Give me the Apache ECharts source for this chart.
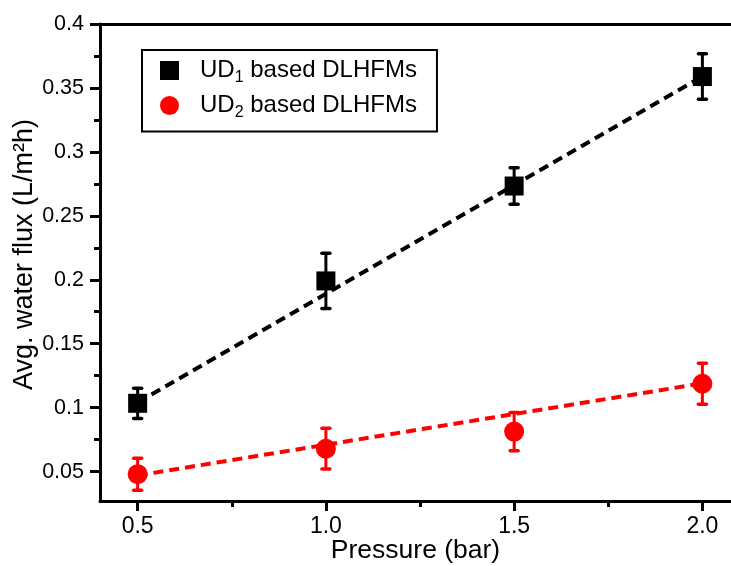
<!DOCTYPE html>
<html><head><meta charset="utf-8">
<script src="https://cdn.jsdelivr.net/npm/echarts@6/dist/echarts.min.js"></script>
<style>html,body{margin:0;padding:0;background:#fff}#c{width:731px;height:566px}</style>
</head><body><div id="c"></div>
<script>
// ---- data ----
const pressure = [0.5, 1.0, 1.5, 2.0];
const ud1Flux = [0.1034, 0.1991, 0.2733, 0.3589];
const ud1Err  = [0.0118, 0.0216, 0.0143, 0.0178];
const ud2Flux = [0.0480, 0.0679, 0.0813, 0.1187];
const ud2Err  = [0.0125, 0.0159, 0.0150, 0.0160];
const fitX = [0.5, 2.0];
const fit1Y = [0.104, 0.359];
const fit2Y = [0.047, 0.119];
const xMajorTicks = [0.5, 1.0, 1.5, 2.0];
const xMinorTicks = [0.75, 1.25, 1.75];
const yMajorTicks = [0.05, 0.1, 0.15, 0.2, 0.25, 0.3, 0.35, 0.4];
const yMinorTicks = [0.075, 0.125, 0.175, 0.225, 0.275, 0.325, 0.375];
const seriesNames = ['UD1 based DLHFMs', 'UD2 based DLHFMs'];
const legendSub = {'UD1 based DLHFMs': '1', 'UD2 based DLHFMs': '2'};

const FONT = '"Liberation Sans", Arial, sans-serif';
const X_MIN = 0.4, X_MAX = 2.076, Y_MIN = 0.027, Y_MAX = 0.4;

function errRender(color) {
  return function (params, api) {
    const x = api.value(0), lo = api.value(1), hi = api.value(2);
    const pHi = api.coord([x, hi]), pLo = api.coord([x, lo]);
    const hw = 4;
    return {
      type: 'group',
      children: [
        {type: 'line', shape: {x1: pHi[0], y1: pHi[1], x2: pLo[0], y2: pLo[1]}, style: {stroke: color, lineWidth: 3}},
        {type: 'line', shape: {x1: pHi[0] - hw, y1: pHi[1], x2: pHi[0] + hw, y2: pHi[1]}, style: {stroke: color, lineWidth: 3.5, lineCap: 'round'}},
        {type: 'line', shape: {x1: pLo[0] - hw, y1: pLo[1], x2: pLo[0] + hw, y2: pLo[1]}, style: {stroke: color, lineWidth: 3.5, lineCap: 'round'}}
      ]
    };
  };
}

const chart = echarts.init(document.getElementById('c'), null, {renderer: 'canvas'});
const axisLineStyle = {color: '#000', width: 3};

chart.setOption({
  backgroundColor: '#fff',
  animation: false,
  grid: {left: 100, right: 0, top: 24, bottom: 65, containLabel: false, outerBoundsMode: 'none'},
  legend: {
    orient: 'vertical', left: 142, top: 50,
    padding: [8.5, 20, 11, 18],
    itemGap: 8, itemWidth: 19, itemHeight: 19,
    borderColor: '#000', borderWidth: 2,
    data: [
      {name: seriesNames[0], icon: 'rect', itemStyle: {color: '#000', opacity: 1}},
      {name: seriesNames[1], icon: 'circle', itemStyle: {color: '#ff0000', opacity: 1}}
    ],
    formatter: function (name) {
      return '{f|UD}{sub|' + legendSub[name] + '}{n| based DLHFMs}';
    },
    textStyle: {
      fontFamily: FONT, fontSize: 24, color: '#000',
      rich: {
        f: {fontFamily: FONT, fontSize: 24, color: '#000', lineHeight: 30, padding: [0, 0, 0, 16]},
        n: {fontFamily: FONT, fontSize: 24, color: '#000', lineHeight: 30},
        sub: {fontFamily: FONT, fontSize: 16, color: '#000', padding: [14, 0, 0, 0]}
      }
    }
  },
  xAxis: [
    {
      type: 'value', min: X_MIN, max: X_MAX, position: 'bottom',
      name: 'Pressure (bar)', nameLocation: 'middle', nameGap: 36, nameMoveOverlap: false,
      nameTextStyle: {fontFamily: FONT, fontSize: 26.5, color: '#000'},
      axisLine: {show: true, onZero: false, lineStyle: axisLineStyle},
      axisTick: {show: true, inside: false, length: 10, customValues: xMajorTicks, lineStyle: {color: '#000', width: 3}},
      axisLabel: {show: true, customValues: xMajorTicks, margin: 14, fontFamily: FONT, fontSize: 23, color: '#000',
        formatter: function (v) { return v.toFixed(1); }},
      splitLine: {show: false}
    },
    {
      type: 'value', min: X_MIN, max: X_MAX, position: 'bottom',
      axisLine: {show: false},
      axisTick: {show: true, inside: false, length: 6, customValues: xMinorTicks, lineStyle: {color: '#000', width: 3}},
      axisLabel: {show: false},
      splitLine: {show: false}
    },
    {
      type: 'value', min: X_MIN, max: X_MAX, position: 'top',
      axisLine: {show: true, onZero: false, lineStyle: axisLineStyle},
      axisTick: {show: false}, axisLabel: {show: false}, splitLine: {show: false}
    }
  ],
  yAxis: [
    {
      type: 'value', min: Y_MIN, max: Y_MAX, position: 'left',
      name: 'Avg. water flux (L/m²h)', nameLocation: 'middle', nameGap: 62, nameMoveOverlap: false,
      nameTextStyle: {fontFamily: FONT, fontSize: 27, color: '#000', padding: [0, 0, 0, 16]},
      axisLine: {show: true, onZero: false, lineStyle: axisLineStyle},
      axisTick: {show: true, inside: false, length: 10, customValues: yMajorTicks, lineStyle: {color: '#000', width: 3}},
      axisLabel: {show: true, customValues: yMajorTicks, margin: 16, fontFamily: FONT, fontSize: 21.5, color: '#000',
        formatter: function (v) { return String(+v.toFixed(3)); }},
      splitLine: {show: false}
    },
    {
      type: 'value', min: Y_MIN, max: Y_MAX, position: 'left',
      axisLine: {show: false},
      axisTick: {show: true, inside: false, length: 6, customValues: yMinorTicks, lineStyle: {color: '#000', width: 3}},
      axisLabel: {show: false},
      splitLine: {show: false}
    }
  ],
  series: [
    {
      name: 'fit1', type: 'line', xAxisIndex: 0, yAxisIndex: 0, z: 1,
      data: fitX.map((x, i) => [x, fit1Y[i]]),
      symbol: 'none', lineStyle: {color: '#000', width: 4, type: [10, 6]}, silent: true
    },
    {
      name: 'fit2', type: 'line', xAxisIndex: 0, yAxisIndex: 0, z: 1,
      data: fitX.map((x, i) => [x, fit2Y[i]]),
      symbol: 'none', lineStyle: {color: '#ff0000', width: 4, type: [10, 6]}, silent: true
    },
    {
      name: 'err1', type: 'custom', xAxisIndex: 0, yAxisIndex: 0, z: 2,
      renderItem: errRender('#000'), encode: {x: 0, y: [1, 2]},
      data: pressure.map((p, i) => [p, ud1Flux[i] - ud1Err[i], ud1Flux[i] + ud1Err[i]])
    },
    {
      name: 'err2', type: 'custom', xAxisIndex: 0, yAxisIndex: 0, z: 2,
      renderItem: errRender('#ff0000'), encode: {x: 0, y: [1, 2]},
      data: pressure.map((p, i) => [p, ud2Flux[i] - ud2Err[i], ud2Flux[i] + ud2Err[i]])
    },
    {
      name: seriesNames[0], type: 'scatter', xAxisIndex: 0, yAxisIndex: 0, z: 3,
      symbol: 'rect', symbolSize: 19, itemStyle: {color: '#000', opacity: 1},
      data: pressure.map((p, i) => [p, ud1Flux[i]])
    },
    {
      name: seriesNames[1], type: 'scatter', xAxisIndex: 0, yAxisIndex: 0, z: 3,
      symbol: 'circle', symbolSize: 20, itemStyle: {color: '#ff0000', opacity: 1},
      data: pressure.map((p, i) => [p, ud2Flux[i]])
    }
  ]
});
</script>
</body></html>
